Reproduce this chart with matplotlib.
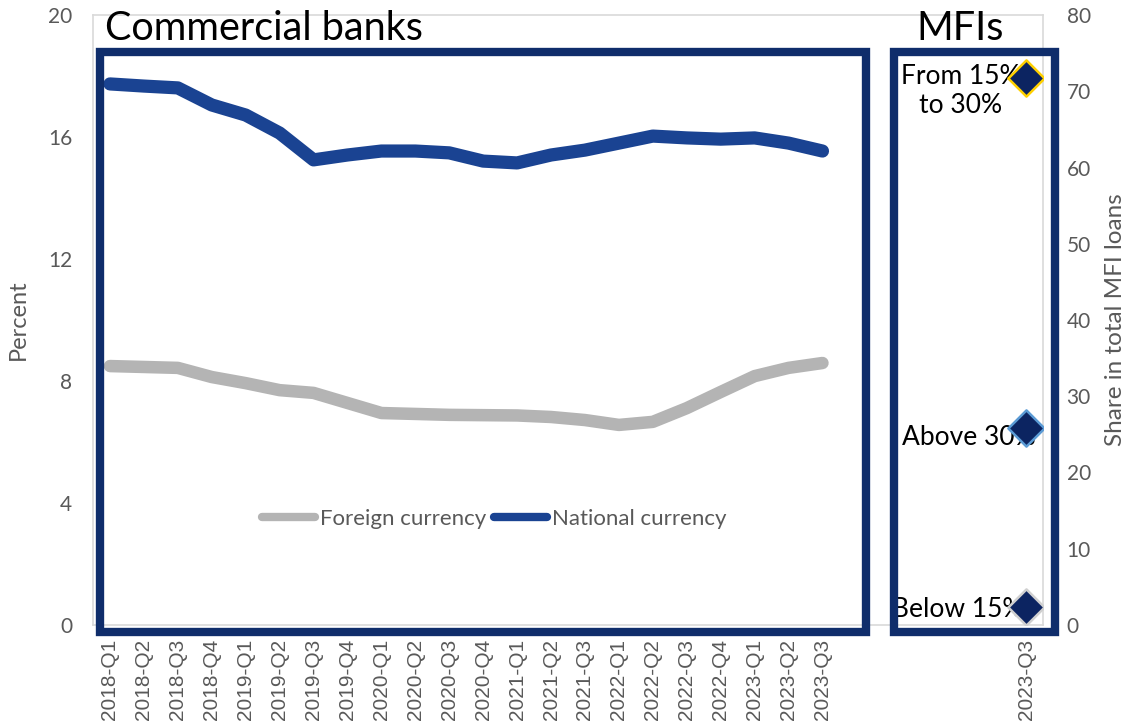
import matplotlib
matplotlib.use("Agg")
import matplotlib.pyplot as plt
from matplotlib.patches import Rectangle

# quarterly lending rates of commercial banks, percent
quarters = [
    "2018-Q1", "2018-Q2", "2018-Q3", "2018-Q4",
    "2019-Q1", "2019-Q2", "2019-Q3", "2019-Q4",
    "2020-Q1", "2020-Q2", "2020-Q3", "2020-Q4",
    "2021-Q1", "2021-Q2", "2021-Q3",
    "2022-Q1", "2022-Q2", "2022-Q3", "2022-Q4",
    "2023-Q1", "2023-Q2", "2023-Q3",
]
foreign = [8.49, 8.46, 8.43, 8.13, 7.93, 7.70, 7.61, 7.28, 6.95, 6.92, 6.89,
           6.88, 6.87, 6.82, 6.72, 6.56, 6.66, 7.11, 7.64, 8.16, 8.43, 8.59]
national = [17.74, 17.67, 17.61, 17.05, 16.72, 16.13, 15.25, 15.41, 15.54,
            15.54, 15.48, 15.21, 15.15, 15.41, 15.57, 15.80, 16.03, 15.97,
            15.93, 15.97, 15.80, 15.54]

# MFI loans by interest-rate bracket, share of total (2023-Q3)
mfi_quarter = "2023-Q3"
mfi_groups = ["From 15%\nto 30%", "Above 30%", "Below 15%"]
mfi_shares = [71.8, 25.9, 2.3]
mfi_edges = ["#ffd000", "#5b9bd5", "#d0d0d0"]

n_gap = 5
labels = quarters + [""] * n_gap + [mfi_quarter]
mfi_pos = len(labels) - 1

navy = "#0f2d6b"
grey_txt = "#595959"
font = "Lato"

fig = plt.figure(figsize=(11.24, 7.25), dpi=100)
W, H = 1124, 725
ax = fig.add_axes([93 / W, 1 - 625 / H, 950 / W, 610 / H])

x = list(range(len(quarters)))
ax.plot(x, foreign, color="#b4b4b4", lw=9, solid_capstyle="round",
        solid_joinstyle="round", label="Foreign currency", zorder=3)
ax.plot(x, national, color="#1a4392", lw=9.5, solid_capstyle="round",
        solid_joinstyle="round", label="National currency", zorder=3)

ax.set_xlim(-0.5, len(labels) - 0.5)
ax.set_ylim(0, 20)
ax.set_yticks(range(0, 21, 4))
ax.set_xticks(range(len(labels)))
ax.set_xticklabels(labels, rotation=90, fontsize=15, color=grey_txt,
                   family="Liberation Sans")
ax.tick_params(length=0, pad=10)
ax.tick_params(axis="y", labelsize=15, labelcolor=grey_txt, pad=15)
for lab in ax.get_yticklabels():
    lab.set_family(font)
ax.set_ylabel("Percent", fontsize=17, color=grey_txt, family=font, labelpad=14)
for sp in ax.spines.values():
    sp.set_color("#d9d9d9")
    sp.set_linewidth(1.2)

ax2 = ax.twinx()
ax2.set_ylim(0, 80)
ax2.set_yticks(range(0, 81, 10))
ax2.tick_params(length=0, labelsize=15, labelcolor=grey_txt, pad=17)
for lab in ax2.get_yticklabels():
    lab.set_family(font)
ax2.set_ylabel("Share in total MFI loans", fontsize=17.5, color=grey_txt,
               family=font, labelpad=10)
for sp in ax2.spines.values():
    sp.set_visible(False)

for share, edge in zip(mfi_shares, mfi_edges):
    ax2.scatter([mfi_pos], [share], marker="D", s=340, color="#0c2461",
                edgecolor=edge, linewidth=1.8, zorder=4)
offsets = {
    mfi_groups[0]: ((-47, -10), "center"),
    mfi_groups[1]: ((7, -7), "right"),
    mfi_groups[2]: ((-2, -1.5), "right"),
}
for share, name in zip(mfi_shares, mfi_groups):
    off, ha = offsets[name]
    ax2.annotate(name, (mfi_pos, share), xytext=off, textcoords="offset points",
                 ha=ha, va="center", fontsize=19, family=font, color="black",
                 linespacing=1.2, zorder=2)

leg = ax.legend(loc="center", bbox_to_anchor=(494 / W, 1 - 519 / H),
                bbox_transform=fig.transFigure, ncol=2, frameon=False,
                handlelength=2.4, handletextpad=0.2, columnspacing=0.35,
                prop={"family": font, "size": 16}, labelcolor=grey_txt)
for line in leg.get_lines():
    line.set_linewidth(6)

# panel frames and headings
fig.add_artist(Rectangle((100 / W, 1 - 632 / H), 766 / W, 580 / H,
                         transform=fig.transFigure, fill=False,
                         edgecolor=navy, lw=6, zorder=5))
fig.add_artist(Rectangle((893.5 / W, 1 - 632 / H), 161.5 / W, 580 / H,
                         transform=fig.transFigure, fill=False,
                         edgecolor=navy, lw=6, zorder=5))
fig.text(105 / W, 1 - 28 / H, "Commercial banks", fontsize=28.5, family=font,
         va="center", ha="left", color="black")
fig.text(960 / W, 1 - 28 / H, "MFIs", fontsize=28.5, family=font,
         va="center", ha="center", color="black")

fig.savefig("out.png", dpi=100)
